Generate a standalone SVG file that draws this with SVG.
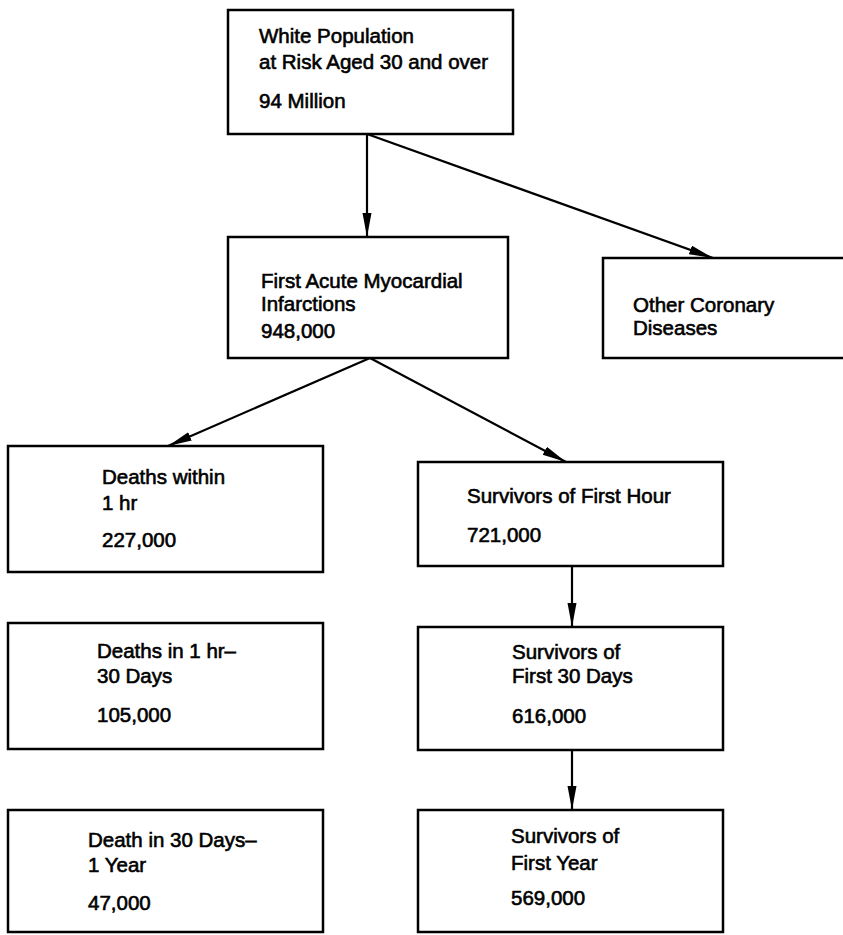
<svg xmlns="http://www.w3.org/2000/svg" width="843" height="935" viewBox="0 0 843 935">
<style>
.box{fill:#fff;stroke:#000;stroke-width:2.5}
.t{font-family:"Liberation Sans",Arial,sans-serif;font-size:20.5px;fill:#000;stroke:#000;stroke-width:0.6}
.c{stroke:#000;stroke-width:2.2;fill:none}
</style>
<defs>
<marker id="ah" markerUnits="userSpaceOnUse" markerWidth="26" markerHeight="10" refX="24" refY="4.5" orient="auto">
<path d="M0,0 L24,4.5 L0,9 z" fill="#000"/>
</marker>
</defs>
<rect width="843" height="935" fill="#fff"/>
<g id="connectors">
<line class="c" x1="367" y1="134" x2="367" y2="237" marker-end="url(#ah)"/>
<line class="c" x1="367" y1="134" x2="713" y2="258" marker-end="url(#ah)"/>
<line class="c" x1="370" y1="358" x2="168" y2="446" marker-end="url(#ah)"/>
<line class="c" x1="370" y1="358" x2="566" y2="462" marker-end="url(#ah)"/>
<line class="c" x1="572" y1="566" x2="572" y2="627" marker-end="url(#ah)"/>
<line class="c" x1="572" y1="750" x2="572" y2="810" marker-end="url(#ah)"/>
</g>
<g id="n1">
<rect class="box" x="228" y="10" width="285" height="124"/>
<text class="t" x="259" y="43">White Population</text>
<text class="t" x="259" y="69">at Risk Aged 30 and over</text>
<text class="t" x="259" y="108">94 Million</text>
</g>
<g id="n2">
<rect class="box" x="228" y="237" width="280" height="121"/>
<text class="t" x="261" y="288">First Acute Myocardial</text>
<text class="t" x="261" y="311">Infarctions</text>
<text class="t" x="261" y="338">948,000</text>
</g>
<g id="n3">
<rect class="box" x="603" y="258" width="250" height="100"/>
<text class="t" x="633" y="312">Other Coronary</text>
<text class="t" x="633" y="335">Diseases</text>
</g>
<g id="n4">
<rect class="box" x="8" y="446" width="315" height="126"/>
<text class="t" x="102" y="484">Deaths within</text>
<text class="t" x="102" y="510">1 hr</text>
<text class="t" x="102" y="547">227,000</text>
</g>
<g id="n5">
<rect class="box" x="418" y="462" width="305" height="104"/>
<text class="t" x="467" y="503">Survivors of First Hour</text>
<text class="t" x="467" y="542">721,000</text>
</g>
<g id="n6">
<rect class="box" x="8" y="623" width="315" height="126"/>
<text class="t" x="97" y="658">Deaths in 1 hr–</text>
<text class="t" x="97" y="683">30 Days</text>
<text class="t" x="97" y="722">105,000</text>
</g>
<g id="n7">
<rect class="box" x="418" y="627" width="305" height="123"/>
<text class="t" x="512" y="659">Survivors of</text>
<text class="t" x="512" y="683">First 30 Days</text>
<text class="t" x="512" y="723">616,000</text>
</g>
<g id="n8">
<rect class="box" x="8" y="810" width="315" height="122"/>
<text class="t" x="88" y="847">Death in 30 Days–</text>
<text class="t" x="88" y="872">1 Year</text>
<text class="t" x="88" y="910">47,000</text>
</g>
<g id="n9">
<rect class="box" x="418" y="810" width="305" height="122"/>
<text class="t" x="511" y="843">Survivors of</text>
<text class="t" x="511" y="870">First Year</text>
<text class="t" x="511" y="905">569,000</text>
</g>
</svg>
